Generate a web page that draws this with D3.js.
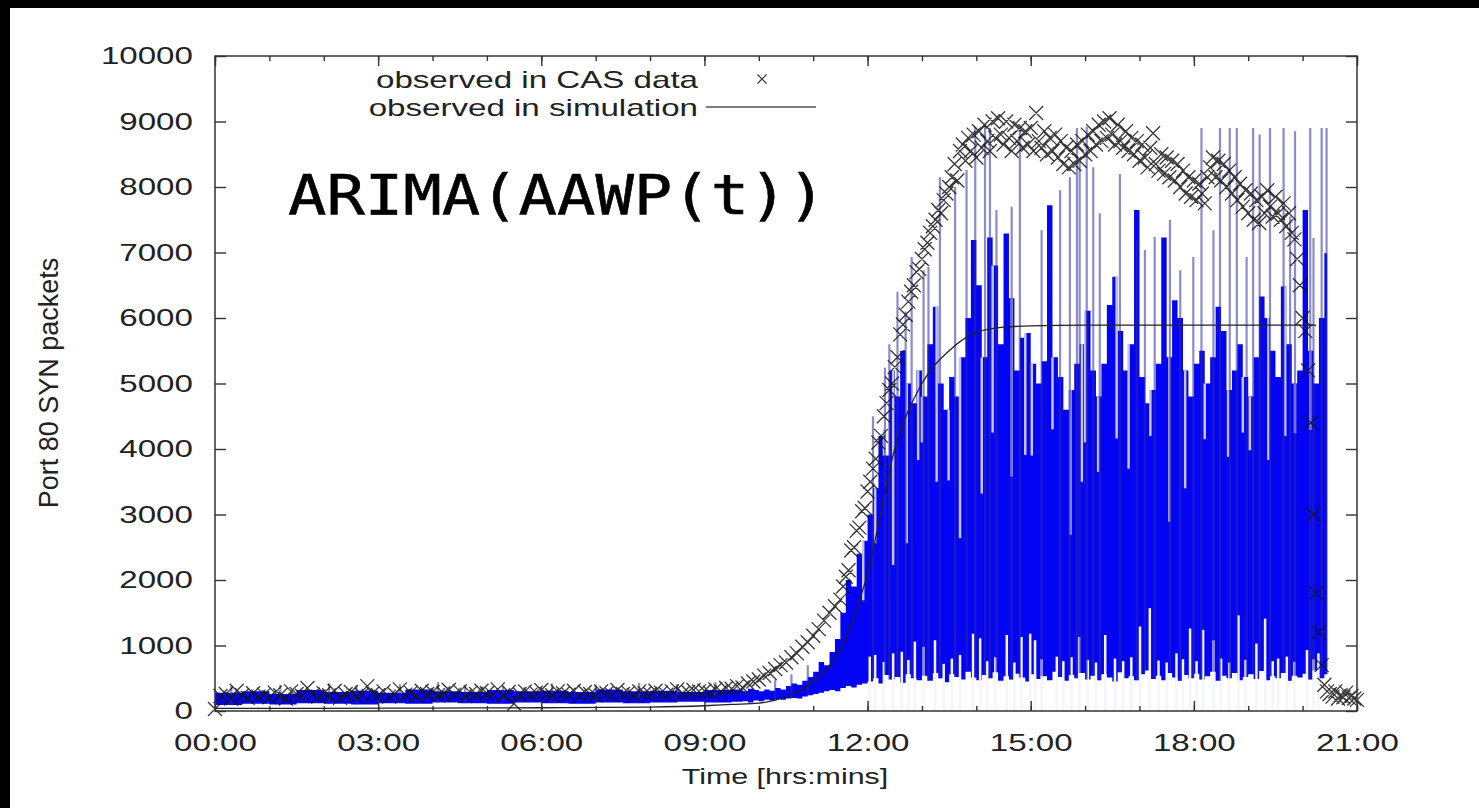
<!DOCTYPE html>
<html lang="en">
<head>
<meta charset="utf-8">
<title>ARIMA(AAWP(t))</title>
<script src="https://cdn.jsdelivr.net/npm/d3@7/dist/d3.min.js"></script>
<style>
  html, body { margin: 0; padding: 0; background: #fff; }
  svg { display: block; }
</style>
</head>
<body>
<svg width="1479" height="808"></svg>
<script>
// ---- data ----
// time in hours, values in packets

// CAS observations (x markers), three sampling blocks
const casEarlyStart = 0, casEarlyStep = 0.1;
const casEarly = [
  30, 230, 260, 190, 310, 240, 200, 270, 220, 250,
  210, 280, 240, 190, 300, 260, 230, 350, 250, 220,
  270, 240, 310, 200, 260, 290, 230, 250, 380, 270,
  240, 300, 220, 260, 330, 250, 280, 230, 310, 260,
  290, 240, 270, 320, 250, 300, 230, 280, 260, 310,
  270, 250, 330, 240, 290, 110, 260, 300, 250, 280,
  320, 260, 240, 300, 270, 250, 310, 230, 290, 260,
  240, 300, 270, 250, 320, 260, 280, 240, 300, 270,
  260, 310, 280, 250, 300, 330, 270, 290, 320, 300,
  310, 280, 330, 300, 350, 340, 380, 360, 420, 450,
  480, 540, 580, 640, 700, 740, 820, 880, 980, 1050,
  1150, 1250, 1380, 1500, 1600
];
const casPeakStart = 11.5, casPeakStep = 0.05;
const casPeak = [
  1700, 1900, 2050, 2150, 2450, 2500, 2750, 2800, 3050, 3100,
  3350, 3500, 3700, 3850, 4100, 4200, 4500, 4700, 4900, 5000,
  5250, 5400, 5750, 5900, 6050, 6250, 6400, 6500, 6700, 6750,
  6900, 7050, 7150, 7300, 7400, 7500, 7650, 7600, 7800, 7900,
  8000, 8150, 8350, 8100, 8550, 8650, 8400, 8750, 8550, 8800,
  8450, 8850, 8600, 8950, 8700, 8550, 9000, 8750, 9050, 8800,
  8650, 9000, 8750, 8550, 8950, 8700, 8900, 8600, 8850, 8650,
  8900, 8550, 9130, 8700, 8600, 8850, 8500, 8750, 8550, 8800,
  8450, 8700, 8350, 8600, 8300, 8550, 8350, 8650, 8400, 8700,
  8500, 8800, 8550, 8850, 8650, 8950, 8700, 9000, 8750, 9050,
  8800, 8650, 8950, 8700, 8600, 8850, 8550, 8750, 8500, 8700,
  8400, 8650, 8450, 8300, 8600, 8820, 8350, 8250, 8500, 8200,
  8450, 8150, 8400, 8100, 8350, 8000, 8250, 7900, 8150, 7850,
  8100, 7800, 8050, 7900, 7750, 8150, 8300, 8450, 8150, 8400,
  8100, 8350, 8000, 8250, 7900, 8150, 7800, 8050, 7700, 7950,
  7600, 7900, 7500, 7800, 7450, 7850, 7600, 7950, 7700, 7550,
  7850, 7600, 7500, 7750, 7400, 7600, 7300, 7200, 6900, 6500,
  6000, 5800, 5200, 4400, 3000, 1800, 1200, 700, 400, 300
];
const casLateStart = 20.5, casLateStep = 0.05;
const casLate = [260, 220, 300, 190, 240, 210, 280, 200, 230, 190, 170];

// simulation curve (thin black line)
const simTime = [0, 2, 4, 6, 8, 9, 9.5, 10, 10.5, 11, 11.5, 12, 12.5, 13, 13.5, 14, 14.5, 15, 16, 17, 18, 19, 20, 20.25];
const simValue = [40, 40, 45, 50, 60, 80, 100, 120, 220, 450, 950, 2100, 4000, 5000, 5500, 5780, 5860, 5880, 5890, 5890, 5890, 5890, 5890, 5890];

// ARIMA blue trace: band envelope
const bandEarlyStart = 0, bandEarlyStep = 0.5;
const bandEarlyLow  = [90, 110, 100, 120, 110, 100, 120, 110, 130, 120, 110, 130, 120, 110, 130, 120, 130, 140, 130, 140];
const bandEarlyHigh = [280, 300, 260, 320, 290, 310, 280, 330, 300, 290, 320, 300, 310, 290, 330, 300, 310, 290, 320, 330];
const bandStart = 9.6, bandStep = 0.1, bandEnd = 20.45;
const bandLow = [
  140, 150, 130, 160,
  150, 170, 160, 180, 170, 190, 200, 190, 220, 240,
  260, 280, 300, 320, 300, 350, 380, 360, 400, 420,
  450, 500, 420, 550, 480, 520, 430, 560, 500, 470,
  540, 460, 580, 500, 440, 560, 520, 480, 600, 510,
  470, 550, 500, 590, 460, 530, 480, 570, 510, 450,
  560, 490, 530, 470, 600, 520, 460, 550, 500, 580,
  480, 540, 470, 560, 510, 450, 590, 500, 530, 470,
  560, 620, 490, 540, 470, 580, 510, 460, 550, 500,
  570, 480, 530, 600, 460, 540, 500, 580, 470, 520,
  560, 490, 610, 470, 530, 500, 580, 460, 540, 510,
  570, 480, 620, 500, 560
];
const bandHigh = [
  330, 300, 340, 320,
  300, 330, 310, 350, 330, 380, 420, 400, 460, 520,
  600, 750, 700, 900, 1100, 1500, 2000, 1900, 2400, 2600,
  3000, 3400, 4200, 3900, 5200, 4800, 5500, 5000, 4700, 5200,
  4800, 5600, 6170, 5000, 4600, 5100, 4800, 5400, 6000, 7190,
  6500, 5400, 7230, 6800, 5600, 7290, 6300, 5200, 5700, 5770,
  5300, 5000, 5340, 7720, 5400, 5100, 4600, 4900, 5300, 5600,
  6110, 5200, 4800, 5300, 6200, 6630, 5800, 5200, 5600, 7650,
  5100, 4700, 4900, 5300, 7230, 5400, 6270, 6000, 5200, 4800,
  5300, 5500, 5000, 5400, 6170, 5800, 4900, 5200, 5600, 5100,
  4800, 5400, 6330, 6000, 5500, 5100, 6480, 5600, 5000, 5200,
  7650, 5500, 5000, 6000, 6990
];

// thin semi-transparent spikes [time, top]
const spikes = [
  [0.3, 380], [1.2, 400], [2.1, 420], [2.6, 390], [3.4, 410], [4.1, 440], [4.6, 400], [5.3, 380],
  [6.2, 420], [7.0, 400], [7.8, 430], [8.5, 410], [9.2, 440], [10.3, 480], [10.6, 560], [10.9, 700],
  [12.1, 4500], [12.32, 5240], [12.4, 5600], [12.55, 6400], [12.7, 6100], [12.81, 6930], [13.03, 6730],
  [13.12, 6780], [13.33, 8150], [13.61, 8000], [13.82, 8260], [13.98, 8920], [14.16, 8950], [14.25, 8900],
  [14.37, 7650], [14.65, 7700], [14.8, 8870], [15.2, 7340], [15.54, 7950], [15.72, 8150], [15.85, 8900],
  [15.9, 8380], [16.03, 8920], [16.15, 8300], [16.27, 7600], [16.64, 8200], [16.95, 7190], [17.1, 7040],
  [17.28, 7240], [17.56, 7500], [17.75, 6730], [17.99, 6930], [18.14, 8900], [18.36, 7340], [18.48, 8900],
  [18.66, 8900], [18.79, 8900], [18.97, 6930], [19.09, 8900], [19.21, 8800], [19.4, 8900], [19.65, 8900],
  [19.77, 7550], [19.86, 8850], [20.14, 8900], [20.2, 7220], [20.35, 8900], [20.44, 8900]
];
// light gaps hanging from the top of the band [time, bottom]
const topGaps = [
  [11.92, 1690], [12.14, 2560], [12.3, 4300], [12.47, 2230], [12.72, 2560], [12.93, 3830], [13.0, 4100],
  [13.27, 3500], [13.49, 3520], [13.7, 2640], [14.1, 3320], [14.3, 4250], [14.65, 3580], [14.9, 3910],
  [15.02, 3900], [15.4, 4300], [15.73, 2690], [15.94, 3500], [16.0, 4100], [16.24, 3650], [16.58, 4160],
  [16.8, 3700], [17.2, 4200], [17.55, 2890], [17.84, 3400], [18.2, 4150], [18.63, 3880], [18.9, 4250],
  [19.03, 3980], [19.37, 3830], [19.68, 4200], [19.86, 4240], [20.14, 4290]
];
// white gaps rising from the bottom [time, top]
const bottomGaps = [
  [12.04, 830], [12.14, 855], [12.3, 750], [12.47, 880], [12.63, 905], [12.75, 780], [12.87, 1060],
  [13.03, 980], [13.24, 1080], [13.4, 720], [13.55, 800], [13.7, 855], [13.94, 1180], [14.07, 1110],
  [14.2, 760], [14.35, 820], [14.56, 1160], [14.7, 740], [14.83, 1130], [14.99, 1180], [15.08, 1080],
  [15.2, 790], [15.48, 830], [15.6, 760], [15.75, 820], [15.89, 1130], [16.05, 780], [16.2, 740],
  [16.37, 1160], [16.55, 800], [16.7, 760], [16.85, 820], [17.01, 1290], [17.19, 1570], [17.35, 770],
  [17.5, 740], [17.68, 880], [17.8, 790], [17.93, 1260], [18.05, 760], [18.17, 1240], [18.36, 1080],
  [18.5, 800], [18.65, 740], [18.82, 1460], [18.95, 780], [19.15, 1030], [19.31, 1410], [19.45, 760],
  [19.55, 800], [19.71, 830], [19.85, 750], [20.08, 930], [20.2, 790], [20.29, 880]
];

const yTicks = d3.range(0, 10001, 1000);
const xMajor = d3.range(0, 22, 3);
const xMinor = d3.range(0, 22, 1);
const legendLabels = ["observed in CAS data", "observed in simulation"];
const overlayTitle = "ARIMA(AAWP(t))";

// ---- layout ----
const svg = d3.select("svg");
const W = 1479, H = 808;
const plot = { left: 215, right: 1357, top: 56, bottom: 711 };
const SANS = "'Liberation Sans', Arial, sans-serif";
const STRETCH = 1.38;   // the source picture is stretched sideways

svg.append("rect").attr("width", W).attr("height", H).attr("fill", "#fff");
svg.append("rect").attr("width", W).attr("height", 8).attr("fill", "#000");
svg.append("rect").attr("width", 10).attr("height", H).attr("fill", "#000");

const x = d3.scaleLinear().domain([0, 21]).range([plot.left, plot.right]);
const y = d3.scaleLinear().domain([0, 10000]).range([plot.bottom, plot.top]);

svg.append("clipPath").attr("id", "clip")
  .append("rect")
  .attr("x", plot.left).attr("y", plot.top)
  .attr("width", plot.right - plot.left).attr("height", plot.bottom - plot.top);

// ---- blue ARIMA trace ----
const band = bandEarlyLow.map((lo, i) => ({ t: bandEarlyStart + i * bandEarlyStep, lo, hi: bandEarlyHigh[i] }))
  .concat(bandLow.map((lo, i) => ({ t: +(bandStart + i * bandStep).toFixed(2), lo, hi: bandHigh[i] })));
band.push({ t: bandEnd, lo: band[band.length - 1].lo, hi: band[band.length - 1].hi });
const bisect = d3.bisector(d => d.t).right;
const bandAt = t => band[Math.max(0, bisect(band, t) - 1)];

const blue = svg.append("g").attr("clip-path", "url(#clip)");

blue.append("path")
  .datum(band)
  .attr("fill", "#0404f4")
  .attr("d", d3.area().curve(d3.curveStepAfter)
    .x(d => x(d.t)).y0(d => y(d.lo)).y1(d => y(d.hi)));

blue.selectAll("line.topgap")
  .data(topGaps)
  .enter().append("line")
  .attr("class", "topgap")
  .attr("x1", d => x(d[0])).attr("x2", d => x(d[0]))
  .attr("y1", d => y(bandAt(d[0]).hi)).attr("y2", d => y(d[1]))
  .attr("stroke", "#c4c4ee").attr("stroke-width", 2.5);

blue.selectAll("line.botgap")
  .data(bottomGaps)
  .enter().append("line")
  .attr("class", "botgap")
  .attr("x1", d => x(d[0])).attr("x2", d => x(d[0]))
  .attr("y1", y(0)).attr("y2", d => y(d[1]))
  .attr("stroke", "#f4f4ff").attr("stroke-width", 2.5);

blue.selectAll("line.spike")
  .data(spikes)
  .enter().append("line")
  .attr("class", "spike")
  .attr("x1", d => x(d[0])).attr("x2", d => x(d[0]))
  .attr("y1", d => y(bandAt(d[0]).lo)).attr("y2", d => y(d[1]))
  .attr("stroke", "#2c2ca6").attr("stroke-opacity", 0.55).attr("stroke-width", 2.2);

// ---- simulation line ----
svg.append("path")
  .datum(simTime.map((t, i) => ({ t, v: simValue[i] })))
  .attr("fill", "none")
  .attr("stroke", "#222")
  .attr("stroke-width", 1.3)
  .attr("d", d3.line().curve(d3.curveMonotoneX).x(d => x(d.t)).y(d => y(d.v)));

// ---- CAS markers ----
const cas = casEarly.map((v, i) => ({ t: casEarlyStart + i * casEarlyStep, v }))
  .concat(casPeak.map((v, i) => ({ t: casPeakStart + i * casPeakStep, v })))
  .concat(casLate.map((v, i) => ({ t: casLateStart + i * casLateStep, v })));

const cross = (cx, cy, s) => `M${cx - s},${cy - s}L${cx + s},${cy + s}M${cx - s},${cy + s}L${cx + s},${cy - s}`;

svg.append("path")
  .attr("fill", "none")
  .attr("stroke", "#151515")
  .attr("stroke-opacity", 0.85)
  .attr("stroke-width", 1.3)
  .attr("d", cas.map(d => cross(x(d.t), y(d.v), 7)).join(""));

// ---- axes ----
function styleAxis(g) {
  g.select(".domain").remove();
  g.attr("font-family", SANS).attr("font-size", 24);
  g.selectAll("line").attr("stroke", "#333").attr("stroke-width", 1.4);
  g.selectAll("text").attr("fill", "#222").attr("transform", `scale(${STRETCH},1)`);
}
const hhmm = h => String(h).padStart(2, "0") + ":00";

svg.append("g").attr("transform", `translate(0,${plot.bottom})`)
  .call(d3.axisBottom(x).tickValues(xMinor).tickSize(-5).tickFormat("")).call(styleAxis);
svg.append("g").attr("transform", `translate(0,${plot.bottom})`)
  .call(d3.axisBottom(x).tickValues(xMajor).tickSize(-10).tickPadding(23).tickFormat(hhmm)).call(styleAxis);
svg.append("g").attr("transform", `translate(0,${plot.top})`)
  .call(d3.axisTop(x).tickValues(xMinor).tickSize(-5).tickFormat("")).call(styleAxis);
svg.append("g").attr("transform", `translate(0,${plot.top})`)
  .call(d3.axisTop(x).tickValues(xMajor).tickSize(-10).tickFormat("")).call(styleAxis);
svg.append("g").attr("transform", `translate(${plot.left},0)`)
  .call(d3.axisLeft(y).tickValues(yTicks).tickSize(-11).tickPadding(16).tickFormat(d3.format("d"))).call(styleAxis);
svg.append("g").attr("transform", `translate(${plot.right},0)`)
  .call(d3.axisRight(y).tickValues(yTicks).tickSize(-11).tickFormat("")).call(styleAxis);

svg.append("rect")
  .attr("x", plot.left).attr("y", plot.top)
  .attr("width", plot.right - plot.left).attr("height", plot.bottom - plot.top)
  .attr("fill", "none").attr("stroke", "#333").attr("stroke-width", 1.5);

// axis titles
svg.append("text")
  .attr("transform", `translate(58,383) rotate(-90)`)
  .attr("text-anchor", "middle")
  .attr("font-family", SANS).attr("font-size", 27).attr("fill", "#222")
  .text("Port 80 SYN packets");

svg.append("text")
  .attr("transform", `translate(785,784) scale(${STRETCH},1)`)
  .attr("text-anchor", "middle")
  .attr("font-family", SANS).attr("font-size", 22).attr("fill", "#222")
  .text("Time [hrs:mins]");

// ---- legend ----
const legend = svg.append("g");
legend.selectAll("text")
  .data(legendLabels)
  .enter().append("text")
  .attr("transform", (d, i) => `translate(698,${88 + i * 28}) scale(${STRETCH},1)`)
  .attr("text-anchor", "end")
  .attr("font-family", SANS).attr("font-size", 24).attr("fill", "#222")
  .text(d => d);
legend.append("path")
  .attr("d", cross(762, 79, 4.5))
  .attr("stroke", "#333").attr("stroke-width", 1.2).attr("fill", "none");
legend.append("line")
  .attr("x1", 706).attr("x2", 816).attr("y1", 107).attr("y2", 107)
  .attr("stroke", "#555").attr("stroke-width", 1.4);

// ---- overlay title ----
svg.append("text")
  .attr("transform", "translate(288,214) scale(1.14,1)")
  .attr("font-family", "'DejaVu Sans Mono', monospace")
  .attr("font-size", 56)
  .attr("fill", "#000")
  .attr("stroke", "#000").attr("stroke-width", 0.6)
  .text(overlayTitle);
</script>
</body>
</html>
